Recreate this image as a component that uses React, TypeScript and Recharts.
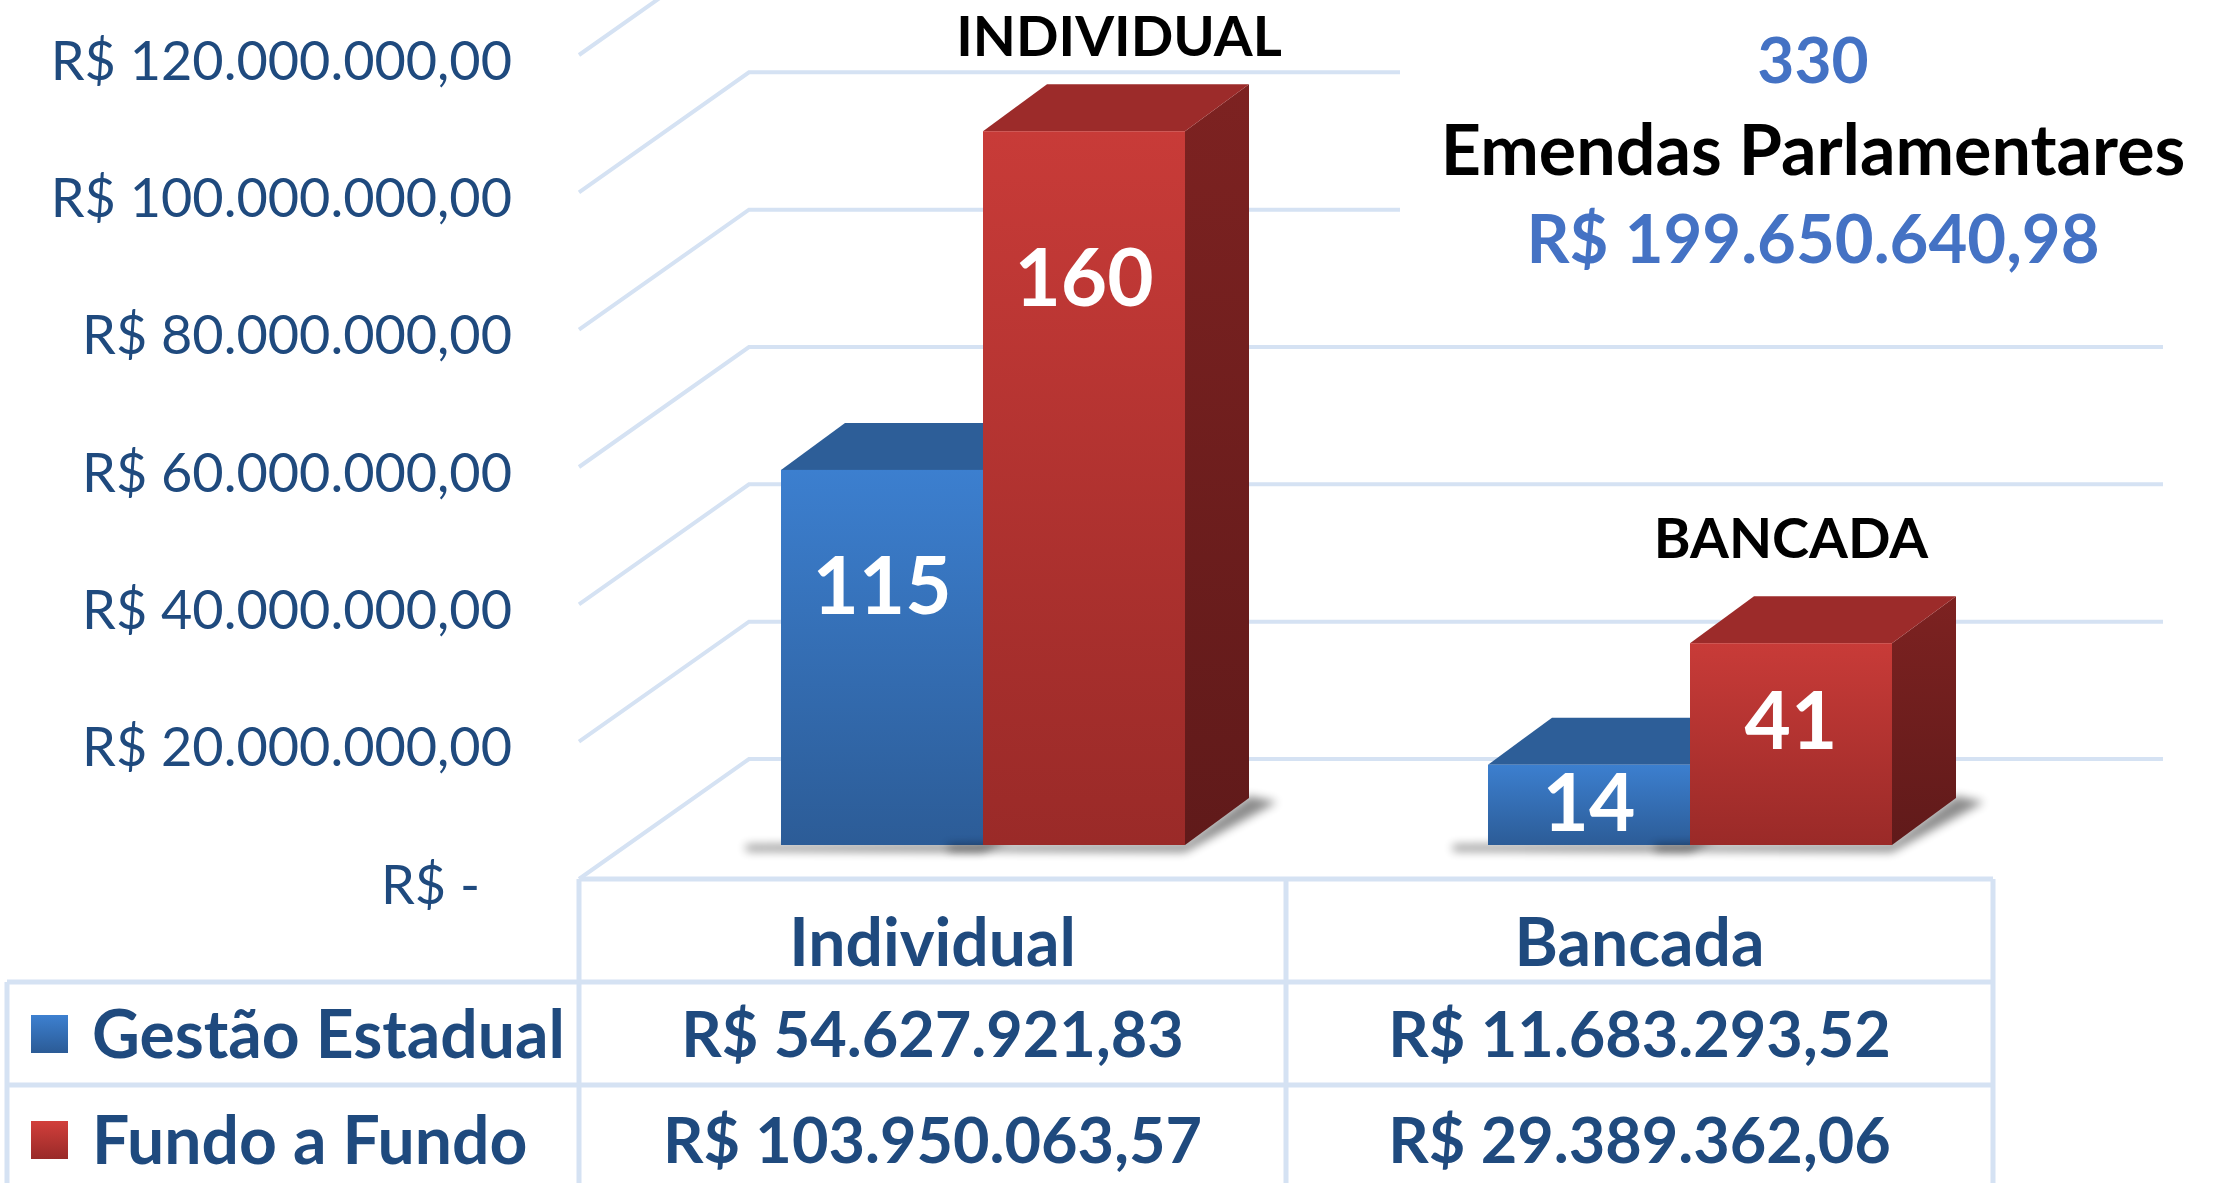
import React from 'react';
import { BarChart, Bar, XAxis, YAxis, CartesianGrid } from 'recharts';

const categories = ['Individual', 'Bancada'];
const seriesNames = ['Gestão Estadual', 'Fundo a Fundo'];
const gestaoEstadual = [54627921.83, 11683293.52];
const fundoAFundo = [103950063.57, 29389362.06];
const qtdGestao = [115, 14];
const qtdFundo = [160, 41];
const groupTitles = ['INDIVIDUAL', 'BANCADA'];
const yTicks = [0, 20000000, 40000000, 60000000, 80000000, 100000000, 120000000];
const totalEmendas = 330;
const totalLabel = 'Emendas Parlamentares';
const totalValor = 199650640.98;

const data = categories.map((name, i) => ({
  name,
  gestao: gestaoEstadual[i],
  fundo: fundoAFundo[i],
  qGestao: qtdGestao[i],
  qFundo: qtdFundo[i],
}));

// layout (px)
const W = 2216;
const H = 1183;
const PLOT_LEFT = 629;
const PLOT_RIGHT = 2043;
const PLOT_TOP = 21;
const PLOT_BOTTOM = 845;
const PLOT_H = PLOT_BOTTOM - PLOT_TOP;
const BAND = (PLOT_RIGHT - PLOT_LEFT) / categories.length;
const PLANE_DX = 50; // bar plane vs front edge of the floor
const PLANE_DY = 34;
const DEPTH_X = 170; // floor depth
const DEPTH_Y = 120;
const BAR_DX = 64; // bar depth
const BAR_DY = 47;

const FONT = "Lato, 'Open Sans', sans-serif";
const DARK_BLUE = '#1f4a7e';
const GRID = '#d5e2f3';

const TABLE_TOP = 879;
const ROW1 = 982;
const ROW2 = 1085;
const TABLE_LEFT = 7;

const fmt = (v: number) => {
  if (v === 0) return 'R$ -';
  const [int, dec] = v.toFixed(2).split('.');
  return `R$ ${int.replace(/\B(?=(\d{3})+(?!\d))/g, '.')},${dec}`;
};

const gridLine = (props: any) => {
  const { x1, x2, y1 } = props;
  const fx = x1 - PLANE_DX;
  const fy = y1 + PLANE_DY;
  const bx = fx + DEPTH_X;
  const by = fy - DEPTH_Y;
  const ex = x2 - PLANE_DX + DEPTH_X;
  return (
    <polyline
      key={`grid-${y1}`}
      points={`${fx},${fy} ${bx},${by} ${ex},${by}`}
      fill="none"
      stroke={GRID}
      strokeWidth={4}
    />
  );
};

const YTick = ({ y, payload }: any) => {
  const isZero = payload.value === 0;
  return (
    <text
      x={PLOT_LEFT - PLANE_DX - 67 - (isZero ? 32 : 0)}
      y={y + PLANE_DY + 4}
      textAnchor="end"
      dominantBaseline="central"
      fontFamily={FONT}
      fontSize={54}
      fill={DARK_BLUE}
    >
      {fmt(payload.value)}
    </text>
  );
};

const rowText = (x: number, y: number, s: string, anchor = 'middle', size = 62) => (
  <text
    x={x}
    y={y}
    textAnchor={anchor}
    dominantBaseline="central"
    fontFamily={FONT}
    fontWeight={700}
    fontSize={size}
    fill={DARK_BLUE}
  >
    {s}
  </text>
);

const TableTick = ({ x, payload, index }: any) => {
  const i = payload?.index ?? index ?? 0;
  const cx = x - PLANE_DX;
  const l = cx - BAND / 2;
  const r = cx + BAND / 2;
  return (
    <g>
      <line x1={l} x2={r} y1={TABLE_TOP} y2={TABLE_TOP} stroke={GRID} strokeWidth={5} />
      <line x1={l} x2={r} y1={ROW1} y2={ROW1} stroke={GRID} strokeWidth={5} />
      <line x1={l} x2={r} y1={ROW2} y2={ROW2} stroke={GRID} strokeWidth={5} />
      <line x1={r} x2={r} y1={TABLE_TOP} y2={H} stroke={GRID} strokeWidth={5} />
      {i === 0 && (
        <g>
          <line x1={l} x2={l} y1={TABLE_TOP} y2={H} stroke={GRID} strokeWidth={5} />
          <line x1={TABLE_LEFT} x2={l} y1={ROW1} y2={ROW1} stroke={GRID} strokeWidth={5} />
          <line x1={TABLE_LEFT} x2={l} y1={ROW2} y2={ROW2} stroke={GRID} strokeWidth={5} />
          <line x1={TABLE_LEFT} x2={TABLE_LEFT} y1={ROW1} y2={H} stroke={GRID} strokeWidth={5} />
          <rect x={31} y={1015} width={37} height={38} fill="url(#legBlue)" />
          <rect x={31} y={1121} width={37} height={38} fill="url(#legRed)" />
          {rowText(92, 1032, seriesNames[0], 'start', 66)}
          {rowText(92, 1138, seriesNames[1], 'start', 66)}
        </g>
      )}
      {rowText(cx, 940, categories[i], 'middle', 66)}
      {rowText(cx, 1032, fmt(gestaoEstadual[i]), 'middle', 63)}
      {rowText(cx, 1138, fmt(fundoAFundo[i]), 'middle', 63)}
    </g>
  );
};

type BarColors = { id: string; f1: string; f2: string; top: string; s1: string; s2: string; labelKey: string };

const make3DBar = (c: BarColors) => (props: any) => {
  const { x, y, width: w, height: h } = props;
  if (h == null || w == null) return null;
  const base = y + h;
  const count = props.payload?.[c.labelKey] ?? props[c.labelKey];
  const labelY = y + h * (0.56 - 0.385 * Math.sqrt(h / PLOT_H));
  return (
    <g>
      <defs>
        <linearGradient id={`${c.id}-front`} x1="0" y1="0" x2="0" y2="1">
          <stop offset="0%" stopColor={c.f1} />
          <stop offset="100%" stopColor={c.f2} />
        </linearGradient>
        <linearGradient id={`${c.id}-side`} x1="0" y1="0" x2="0" y2="1">
          <stop offset="0%" stopColor={c.s1} />
          <stop offset="100%" stopColor={c.s2} />
        </linearGradient>
        <linearGradient id="legBlue" x1="0" y1="0" x2="0" y2="1">
          <stop offset="0%" stopColor="#3d80d0" />
          <stop offset="100%" stopColor="#2b5b96" />
        </linearGradient>
        <linearGradient id="legRed" x1="0" y1="0" x2="0" y2="1">
          <stop offset="0%" stopColor="#d23f3b" />
          <stop offset="100%" stopColor="#992a28" />
        </linearGradient>
        <filter id="barShadow" x="-50%" y="-50%" width="200%" height="200%">
          <feGaussianBlur stdDeviation="5" />
        </filter>
      </defs>
      <polygon
        points={`${x - 35},${base + 6} ${x + w},${base + 7} ${x + w + BAR_DX + 28},${base - BAR_DY + 4} ${x + w + BAR_DX},${base - BAR_DY - 2} ${x + w},${base - 2} ${x - 35},${base}`}
        fill="#000"
        opacity={0.45}
        filter="url(#barShadow)"
      />
      <polygon
        points={`${x + w},${y} ${x + w + BAR_DX},${y - BAR_DY} ${x + w + BAR_DX},${base - BAR_DY} ${x + w},${base}`}
        fill={`url(#${c.id}-side)`}
      />
      <polygon
        points={`${x},${y} ${x + BAR_DX},${y - BAR_DY} ${x + w + BAR_DX},${y - BAR_DY} ${x + w},${y}`}
        fill={c.top}
      />
      <rect x={x} y={y} width={w} height={h} fill={`url(#${c.id}-front)`} />
      <text
        x={x + w / 2}
        y={labelY}
        textAnchor="middle"
        dominantBaseline="central"
        fontFamily={FONT}
        fontWeight={700}
        fontSize={80}
        fill="#ffffff"
      >
        {count}
      </text>
    </g>
  );
};

const BlueBar = make3DBar({ id: 'blue', f1: '#3c7fcf', f2: '#2c5c97', top: '#2d5e98', s1: '#244d7f', s2: '#1d3f69', labelKey: 'qGestao' });
const RedBar = make3DBar({ id: 'red', f1: '#c83b38', f2: '#9a2a28', top: '#9c2b2a', s1: '#7d2221', s2: '#601a1a', labelKey: 'qFundo' });

const overlayText = (left: number, top: number, text: string, size: number, color: string) => (
  <div
    style={{
      position: 'absolute',
      left,
      top,
      transform: 'translate(-50%, -50%)',
      fontFamily: FONT,
      fontWeight: 700,
      fontSize: size,
      lineHeight: 1,
      color,
      whiteSpace: 'nowrap',
    }}
  >
    {text}
  </div>
);

const App: React.FC = () => {
  return (
    <div style={{ position: 'relative', width: W, height: H, overflow: 'hidden', background: '#fff' }}>
      <style>{'body{margin:0;overflow:hidden;}'}</style>
      <BarChart
        width={W}
        height={H}
        data={data}
        margin={{ top: PLOT_TOP, right: W - PLOT_RIGHT, bottom: H - PLOT_BOTTOM - 30, left: 0 }}
        barSize={202}
        barGap={0}
      >
        <CartesianGrid vertical={false} horizontal={gridLine} syncWithTicks />
        <YAxis
          domain={[0, 120000000]}
          ticks={yTicks}
          interval={0}
          width={PLOT_LEFT}
          axisLine={false}
          tickLine={false}
          tick={(p: any) => <YTick {...p} />}
        />
        <XAxis
          dataKey="name"
          height={30}
          interval={0}
          axisLine={false}
          tickLine={false}
          tick={(p: any) => <TableTick {...p} />}
        />
        <Bar dataKey="gestao" name={seriesNames[0]} shape={BlueBar} isAnimationActive={false} />
        <Bar dataKey="fundo" name={seriesNames[1]} shape={RedBar} isAnimationActive={false} />
      </BarChart>
      <div style={{ position: 'absolute', left: 1400, top: 0, width: W - 1400, height: 290, background: '#fff' }} />
      {overlayText(1813, 59, String(totalEmendas), 64, '#4472c4')}
      {overlayText(1813, 148, totalLabel, 70, '#000000')}
      {overlayText(1813, 237, fmt(totalValor), 67, '#4472c4')}
      {overlayText(1119, 35, groupTitles[0], 56, '#000000')}
      {overlayText(1791, 537, groupTitles[1], 56, '#000000')}
    </div>
  );
};

export default App;
